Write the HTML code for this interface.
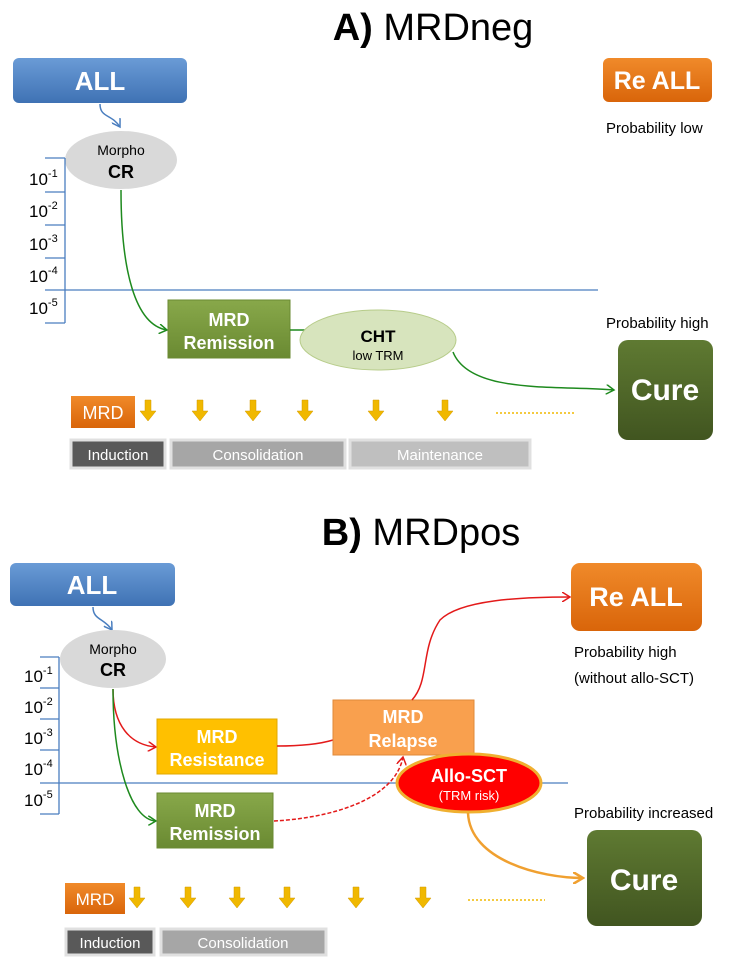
<!DOCTYPE html>
<html><head><meta charset="utf-8"><style>
html,body{margin:0;padding:0;background:#fff;}
svg{display:block;font-family:"Liberation Sans",sans-serif;}
</style></head><body>
<svg width="752" height="970" viewBox="0 0 752 970" xmlns="http://www.w3.org/2000/svg">
<defs>
<linearGradient id="gb" x1="0" y1="0" x2="0" y2="1"><stop offset="0" stop-color="#6a9bd6"/><stop offset="1" stop-color="#3f72b4"/></linearGradient>
<linearGradient id="go" x1="0" y1="0" x2="0" y2="1"><stop offset="0" stop-color="#f08a2a"/><stop offset="1" stop-color="#d9650a"/></linearGradient>
<linearGradient id="gg" x1="0" y1="0" x2="0" y2="1"><stop offset="0" stop-color="#88a84a"/><stop offset="1" stop-color="#6a8a32"/></linearGradient>
<linearGradient id="gd" x1="0" y1="0" x2="0" y2="1"><stop offset="0" stop-color="#5f7a32"/><stop offset="1" stop-color="#415520"/></linearGradient>
<marker id="ag" markerWidth="10" markerHeight="10" refX="8" refY="5" orient="auto" markerUnits="userSpaceOnUse"><path d="M0,0 L8,5 L0,10" fill="none" stroke="#1e8a1e" stroke-width="1.5"/></marker>
<marker id="ar" markerWidth="10" markerHeight="10" refX="8" refY="5" orient="auto" markerUnits="userSpaceOnUse"><path d="M0,0 L8,5 L0,10" fill="none" stroke="#e31a1a" stroke-width="1.5"/></marker>
<marker id="ab" markerWidth="10" markerHeight="10" refX="8" refY="5" orient="auto" markerUnits="userSpaceOnUse"><path d="M0,0 L8,5 L0,10" fill="none" stroke="#4a7ebf" stroke-width="1.5"/></marker>
<marker id="ao" markerWidth="12" markerHeight="12" refX="10" refY="6" orient="auto" markerUnits="userSpaceOnUse"><path d="M0,0 L10,6 L0,12" fill="none" stroke="#f0a030" stroke-width="2.5"/></marker>
<g id="darr"><path d="M-3,0 h6 v11 h5 l-8,10 l-8,-10 h5 z" fill="#f0b800" stroke="#d49a00" stroke-width="0.5"/></g>
</defs>

<!-- Panel A -->
<text x="433" y="40" text-anchor="middle" font-size="38" fill="#000"><tspan font-weight="bold">A)</tspan> MRDneg</text>
<rect x="13" y="58" width="174" height="45" rx="6" fill="url(#gb)"/>
<text x="100" y="90" text-anchor="middle" font-size="26" font-weight="bold" fill="#fff">ALL</text>
<path d="M100,104 C100,118 112,114 120,127" fill="none" stroke="#4a7ebf" stroke-width="1.5" marker-end="url(#ab)"/>
<ellipse cx="121" cy="160" rx="56" ry="29" fill="#d9d9d9"/>
<text x="121" y="155" text-anchor="middle" font-size="14">Morpho</text>
<text x="121" y="178" text-anchor="middle" font-size="18" font-weight="bold">CR</text>
<g stroke="#4a7ebf" stroke-width="1.3" fill="none">
<path d="M65,158 V323"/><path d="M45,158 H65 M45,192 H65 M45,225 H65 M45,258 H65 M45,323 H65"/>
<path d="M45,290 H598"/>
</g>
<g font-size="17" fill="#000">
<text x="28" y="133" dy="0" transform="translate(0,0)"></text>
<text x="29" y="133" ></text>
</g>
<g font-size="17">
<text x="29" y="185">10<tspan font-size="11" dy="-8">-1</tspan></text>
<text x="29" y="217">10<tspan font-size="11" dy="-8">-2</tspan></text>
<text x="29" y="250">10<tspan font-size="11" dy="-8">-3</tspan></text>
<text x="29" y="282">10<tspan font-size="11" dy="-8">-4</tspan></text>
<text x="29" y="314">10<tspan font-size="11" dy="-8">-5</tspan></text>
</g>
<path d="M121,190 C121,270 135,325 167,330" fill="none" stroke="#1e8a1e" stroke-width="1.5" marker-end="url(#ag)"/>
<rect x="168" y="300" width="122" height="58" fill="url(#gg)" stroke="#6a8a32"/>
<text x="229" y="326" text-anchor="middle" font-size="18" font-weight="bold" fill="#fff">MRD</text>
<text x="229" y="349" text-anchor="middle" font-size="18" font-weight="bold" fill="#fff">Remission</text>
<path d="M290,330 H320" stroke="#1e8a1e" stroke-width="1.5"/>
<ellipse cx="378" cy="340" rx="78" ry="30" fill="#d7e4bd" stroke="#b7cc8a"/>
<text x="378" y="342" text-anchor="middle" font-size="17" font-weight="bold">CHT</text>
<text x="378" y="360" text-anchor="middle" font-size="13">low TRM</text>
<path d="M453,352 C470,395 560,385 614,390" fill="none" stroke="#1e8a1e" stroke-width="1.5" marker-end="url(#ag)"/>
<rect x="618" y="340" width="95" height="100" rx="10" fill="url(#gd)"/>
<text x="665" y="400" text-anchor="middle" font-size="30" font-weight="bold" fill="#fff">Cure</text>
<rect x="603" y="58" width="109" height="44" rx="6" fill="url(#go)"/>
<text x="657" y="89" text-anchor="middle" font-size="25" font-weight="bold" fill="#fff">Re ALL</text>
<text x="606" y="133" font-size="15">Probability low</text>
<text x="606" y="328" font-size="15">Probability high</text>
<rect x="71" y="396" width="64" height="32" fill="url(#go)"/>
<text x="103" y="419" text-anchor="middle" font-size="18" fill="#fff">MRD</text>
<use href="#darr" x="148" y="400"/><use href="#darr" x="200" y="400"/><use href="#darr" x="253" y="400"/><use href="#darr" x="305" y="400"/><use href="#darr" x="376" y="400"/><use href="#darr" x="445" y="400"/>
<path d="M496,413 H575" stroke="#f0b800" stroke-width="1.5" stroke-dasharray="2,2"/>
<rect x="71" y="440" width="94" height="28" fill="#595959" stroke="#e0e0e0" stroke-width="3"/>
<text x="118" y="460" text-anchor="middle" font-size="15" fill="#fff">Induction</text>
<rect x="171" y="440" width="174" height="28" fill="#a6a6a6" stroke="#e0e0e0" stroke-width="3"/>
<text x="258" y="460" text-anchor="middle" font-size="15" fill="#fff">Consolidation</text>
<rect x="350" y="440" width="180" height="28" fill="#bfbfbf" stroke="#e0e0e0" stroke-width="3"/>
<text x="440" y="460" text-anchor="middle" font-size="15" fill="#fff">Maintenance</text>

<!-- Panel B -->
<text x="421" y="545" text-anchor="middle" font-size="38"><tspan font-weight="bold">B)</tspan> MRDpos</text>
<rect x="10" y="563" width="165" height="43" rx="6" fill="url(#gb)"/>
<text x="92" y="594" text-anchor="middle" font-size="26" font-weight="bold" fill="#fff">ALL</text>
<path d="M93,607 C93,620 104,618 112,630" fill="none" stroke="#4a7ebf" stroke-width="1.5" marker-end="url(#ab)"/>
<ellipse cx="113" cy="659" rx="53" ry="29" fill="#d9d9d9"/>
<text x="113" y="654" text-anchor="middle" font-size="14">Morpho</text>
<text x="113" y="676" text-anchor="middle" font-size="18" font-weight="bold">CR</text>
<g stroke="#4a7ebf" stroke-width="1.3" fill="none">
<path d="M59,657 V814"/><path d="M40,657 H59 M40,688 H59 M40,719 H59 M40,750 H59 M40,814 H59"/>
<path d="M40,783 H568"/>
</g>
<g font-size="17">
<text x="24" y="682">10<tspan font-size="11" dy="-8">-1</tspan></text>
<text x="24" y="713">10<tspan font-size="11" dy="-8">-2</tspan></text>
<text x="24" y="744">10<tspan font-size="11" dy="-8">-3</tspan></text>
<text x="24" y="775">10<tspan font-size="11" dy="-8">-4</tspan></text>
<text x="24" y="806">10<tspan font-size="11" dy="-8">-5</tspan></text>
</g>
<path d="M113,689 C113,725 130,745 156,747" fill="none" stroke="#e31a1a" stroke-width="1.5" marker-end="url(#ar)"/>
<path d="M113,689 C113,760 130,820 156,821" fill="none" stroke="#1e8a1e" stroke-width="1.5" marker-end="url(#ag)"/>
<rect x="157" y="719" width="120" height="55" fill="#ffc000" stroke="#e0a800"/>
<text x="217" y="743" text-anchor="middle" font-size="18" font-weight="bold" fill="#fff">MRD</text>
<text x="217" y="766" text-anchor="middle" font-size="18" font-weight="bold" fill="#fff">Resistance</text>
<rect x="157" y="793" width="116" height="55" fill="url(#gg)" stroke="#6a8a32"/>
<text x="215" y="817" text-anchor="middle" font-size="18" font-weight="bold" fill="#fff">MRD</text>
<text x="215" y="840" text-anchor="middle" font-size="18" font-weight="bold" fill="#fff">Remission</text>
<path d="M277,746 C300,746 320,744 333,740" fill="none" stroke="#e31a1a" stroke-width="1.5"/>
<path d="M274,821 C330,818 395,800 403,757" fill="none" stroke="#e31a1a" stroke-width="1.5" stroke-dasharray="4,2" marker-end="url(#ar)"/>
<rect x="333" y="700" width="141" height="55" fill="#f9a04e" stroke="#e08a3a"/>
<text x="403" y="723" text-anchor="middle" font-size="18" font-weight="bold" fill="#fff">MRD</text>
<text x="403" y="747" text-anchor="middle" font-size="18" font-weight="bold" fill="#fff">Relapse</text>
<path d="M412,700 C430,680 420,650 440,620 C460,600 520,597 570,597" fill="none" stroke="#e31a1a" stroke-width="1.5" marker-end="url(#ar)"/>
<rect x="571" y="563" width="131" height="68" rx="9" fill="url(#go)"/>
<text x="636" y="606" text-anchor="middle" font-size="27" font-weight="bold" fill="#fff">Re ALL</text>
<text x="574" y="657" font-size="15">Probability high</text>
<text x="574" y="683" font-size="15">(without allo-SCT)</text>
<text x="574" y="818" font-size="15">Probability increased</text>
<ellipse cx="469" cy="783" rx="72" ry="29" fill="#ff0000" stroke="#f0b030" stroke-width="3"/>
<text x="469" y="782" text-anchor="middle" font-size="18" font-weight="bold" fill="#fff">Allo-SCT</text>
<text x="469" y="800" text-anchor="middle" font-size="13" fill="#fff">(TRM risk)</text>
<path d="M468,813 C470,860 540,878 583,878" fill="none" stroke="#f0a030" stroke-width="2.5" marker-end="url(#ao)"/>
<rect x="587" y="830" width="115" height="96" rx="10" fill="url(#gd)"/>
<text x="644" y="890" text-anchor="middle" font-size="30" font-weight="bold" fill="#fff">Cure</text>
<rect x="65" y="883" width="60" height="31" fill="url(#go)"/>
<text x="95" y="905" text-anchor="middle" font-size="17" fill="#fff">MRD</text>
<use href="#darr" x="137" y="887"/><use href="#darr" x="188" y="887"/><use href="#darr" x="237" y="887"/><use href="#darr" x="287" y="887"/><use href="#darr" x="356" y="887"/><use href="#darr" x="423" y="887"/>
<path d="M468,900 H545" stroke="#f0b800" stroke-width="1.5" stroke-dasharray="2,2"/>
<rect x="66" y="929" width="88" height="26" fill="#595959" stroke="#e0e0e0" stroke-width="3"/>
<text x="110" y="948" text-anchor="middle" font-size="15" fill="#fff">Induction</text>
<rect x="161" y="929" width="165" height="26" fill="#a6a6a6" stroke="#e0e0e0" stroke-width="3"/>
<text x="243" y="948" text-anchor="middle" font-size="15" fill="#fff">Consolidation</text>
</svg>
</body></html>
